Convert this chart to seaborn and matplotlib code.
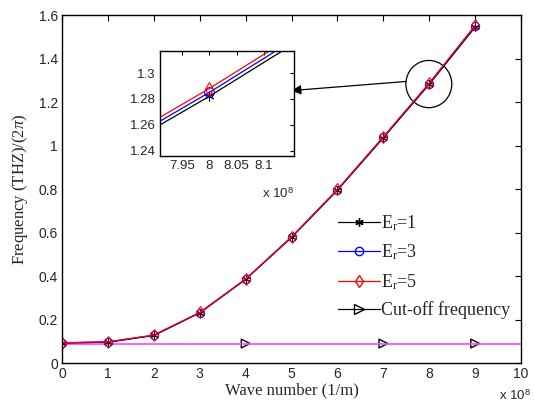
import numpy as np
import pandas as pd
import matplotlib
matplotlib.use("Agg")
import matplotlib.pyplot as plt
from matplotlib.lines import Line2D
from matplotlib.patches import Ellipse
import seaborn as sns

# ---- data (x in units of 1e8 1/m) ----
wave_number = [0, 1, 2, 3, 4, 5, 6, 7, 8, 9]
freq_er1 = [0.093, 0.096, 0.127, 0.231, 0.385, 0.578, 0.795, 1.036, 1.282, 1.545]
freq_er3 = [0.093, 0.097, 0.128, 0.232, 0.386, 0.579, 0.797, 1.038, 1.285, 1.549]
freq_er5 = [0.094, 0.098, 0.129, 0.233, 0.387, 0.581, 0.799, 1.041, 1.288, 1.553]
cutoff_x = [0, 10]
cutoff_y = [0.09, 0.09]
cutoff_marker_x = [4, 7, 9]
cutoff_marker_y = [0.09, 0.09, 0.09]
labels = ["E$_{\\rm r}$=1", "E$_{\\rm r}$=3", "E$_{\\rm r}$=5", "Cut-off frequency"]
main_yticks = [0, 0.2, 0.4, 0.6, 0.8, 1.0, 1.2, 1.4, 1.6]
main_xticks = [0, 1, 2, 3, 4, 5, 6, 7, 8, 9, 10]
inset_xticks = [7.95, 8.0, 8.05, 8.1]
inset_yticks = [1.24, 1.26, 1.28, 1.30]

sns.set_theme(style="white")
plt.rcParams["font.family"] = ["Liberation Sans", "DejaVu Sans"]
plt.rcParams["mathtext.fontset"] = "custom"
plt.rcParams["mathtext.rm"] = "Liberation Serif"
plt.rcParams["mathtext.it"] = "Liberation Serif:italic"
plt.rcParams["xtick.direction"] = "in"
plt.rcParams["ytick.direction"] = "in"

def fmt(v):
    return "%g" % v

fig = plt.figure(figsize=(5.35, 4.08), dpi=100)
ax = fig.add_axes([0.116, 0.110, 0.858, 0.853])

asterisk = (6, 2, 0)
series = [
    (freq_er1, "black", asterisk, dict(markerfacecolor="black")),
    (freq_er3, "#0000ff", "o", dict(markerfacecolor="none")),
    (freq_er5, "#ff0000", "d", dict(markerfacecolor="none")),
]

def draw_series(a, ms, lw):
    for ys, c, m, kw in series:
        df = pd.DataFrame({"x": wave_number, "y": ys})
        sns.lineplot(data=df, x="x", y="y", ax=a, color=c, marker=m,
                     markersize=ms, markeredgecolor=c, linewidth=lw,
                     legend=False, **kw)

# cut-off line
sns.lineplot(x=cutoff_x, y=cutoff_y, ax=ax, color="#ff44ff", linewidth=1.2, legend=False)
draw_series(ax, 6, 0.9)
sns.scatterplot(x=cutoff_marker_x, y=cutoff_marker_y, ax=ax, marker=">",
                s=40, facecolor="none", edgecolor="black", linewidth=1.0, legend=False)

ax.set_xlim(0, 10)
ax.set_ylim(0, 1.6)
ax.set_xticks(main_xticks)
ax.set_xticklabels([fmt(v) for v in main_xticks], fontsize=10)
ax.set_yticks(main_yticks)
ax.set_yticklabels([fmt(v) for v in main_yticks], fontsize=10)
ax.tick_params(top=True, right=True, length=4, width=0.8, color="black", pad=3)
for sp in ax.spines.values():
    sp.set_color("black")
    sp.set_linewidth(1.0)
ax.set_xlabel("Wave number (1/m)", family="Liberation Serif", fontsize=12, labelpad=1)
ax.set_ylabel("Frequency (THZ)/(2$\\pi$)", family="Liberation Serif", fontsize=12, labelpad=6)
fig.text(0.933, 0.012, "x 10$^{\\mathregular{8}}$", fontsize=9.5, ha="left", va="bottom")

# legend
handles = [
    Line2D([], [], color="black", marker=asterisk, markersize=6, linewidth=0.9),
    Line2D([], [], color="#0000ff", marker="o", markerfacecolor="none", markersize=6, linewidth=0.9),
    Line2D([], [], color="#ff0000", marker="d", markerfacecolor="none", markersize=6, linewidth=0.9),
    Line2D([], [], color="black", marker=">", markerfacecolor="none", markersize=7, linewidth=0.9),
]
leg = ax.legend(handles, labels, loc="upper left", bbox_to_anchor=(0.566, 0.476),
                frameon=False, prop={"family": "Liberation Serif", "size": 13},
                handlelength=2.3, handletextpad=0.1, labelspacing=0.52)

# circle and arrow
ax.add_patch(Ellipse((7.99, 1.283), 1.0, 0.217, fill=False, edgecolor="black", linewidth=0.9))
ax.annotate("", xy=(5.0, 1.253), xytext=(7.5, 1.295),
            arrowprops=dict(arrowstyle="-|>", color="black", linewidth=0.9,
                            mutation_scale=14, shrinkA=0, shrinkB=0))

# inset
axin = fig.add_axes([0.299, 0.618, 0.251, 0.257])
draw_series(axin, 7, 0.9)
axin.set_xlim(7.91, 8.155)
axin.set_ylim(1.236, 1.317)
axin.set_xticks(inset_xticks)
axin.set_xticklabels([fmt(v) for v in inset_xticks], fontsize=9.5)
axin.set_yticks(inset_yticks)
axin.set_yticklabels([fmt(v) for v in inset_yticks], fontsize=9.5)
axin.tick_params(top=True, right=True, length=3, width=0.8, color="black", pad=3)
axin.set_xlabel("")
axin.set_ylabel("")
for sp in axin.spines.values():
    sp.set_color("black")
    sp.set_linewidth(1.0)
fig.text(0.49, 0.508, "x 10$^{\\mathregular{8}}$", fontsize=9.5, ha="left", va="bottom")

fig.savefig("out.png", dpi=100)
